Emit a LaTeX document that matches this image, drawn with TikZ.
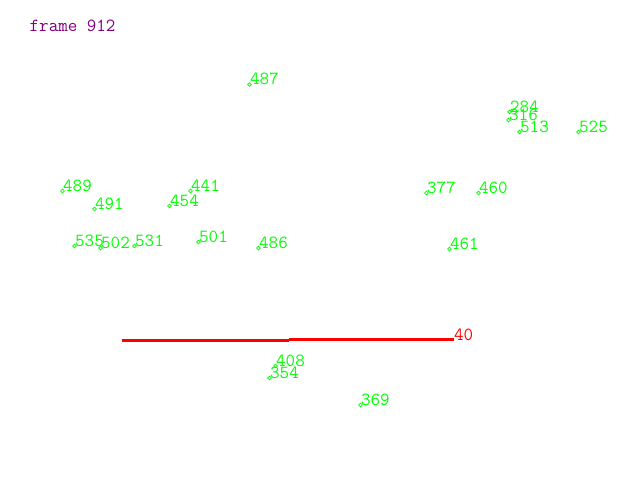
\documentclass[tikz,border=0pt]{standalone}
\usetikzlibrary{shapes.geometric}
\definecolor{ptgreen}{RGB}{0,255,0}
\definecolor{ptred}{RGB}{255,0,0}
\definecolor{ptpurple}{RGB}{128,0,128}
\tikzset{
  mk/.style={diamond,draw=ptgreen,line width=0.6pt,inner sep=0pt,minimum size=4pt},
  lbl/.style={anchor=base west,inner sep=0pt,text=ptgreen,font=\ttfamily\fontsize{18.5}{18.5}\selectfont},
  redline/.style={draw=ptred,line width=3pt}
}
\begin{document}
\begin{tikzpicture}[x=1pt,y=-1pt]
\useasboundingbox[fill=white] (0,0) rectangle (640,480);
\node[lbl,text=ptpurple] (frame) at (29.5,31) {frame 912};
\foreach \n/\x/\y in {487/252/84.5,284/512/112,316/511/120,513/522/132,525/581/132,
  377/429/193,460/481/193,461/452/249,489/65/191,441/193/191,491/97/209,454/172/206,
  535/77/246,502/103/248,531/137/246,501/201/242,486/261/248,408/278/366,354/272/378,369/363/405}{
  \node[mk] (m\n) at (\x-2.5,\y) {};
  \node[lbl] (t\n) at (\x-2,\y) {\n};
}
\coordinate (ra) at (122,340.3);
\coordinate (rb) at (289,340.3);
\coordinate (rc) at (289,339.3);
\coordinate (rd) at (454,339.3);
\draw[redline] (ra) -- (rb);
\draw[redline] (rc) -- (rd);
\node[lbl,text=ptred] (t40) at (454,340) {40};
\end{tikzpicture}
\end{document}
